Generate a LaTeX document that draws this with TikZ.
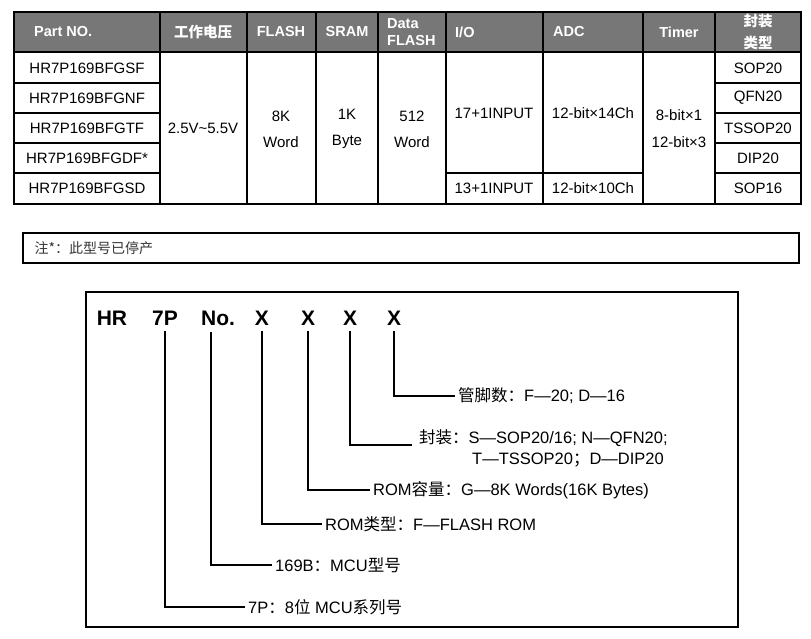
\documentclass[tikz,border=0pt]{standalone}
\usepackage{fontspec}
\setmainfont{Liberation Sans}
\newfontfamily\cjk{Noto Sans CJK SC}
\usetikzlibrary{positioning}
\definecolor{headgray}{HTML}{777777}
\definecolor{notegray}{HTML}{333333}
\begin{document}
\begin{tikzpicture}[x=1pt, y=-1pt,
    head/.style={text=white, font=\fontsize{14.5}{17}\bfseries\selectfont, inner sep=0pt},
    cell/.style={font=\fontsize{15}{26}\selectfont, inner sep=0pt, align=center},
    letter/.style={font=\fontsize{21}{24}\bfseries\selectfont, inner xsep=1pt, inner ysep=6pt},
    label/.style={font=\fontsize{16.5}{20}\selectfont, anchor=west, inner sep=3pt},
    lead/.style={line width=1.4pt}]
    \useasboundingbox (0,0) rectangle (811,638);

    % Table header
    \fill[headgray] (14,12) rectangle (801,52);
    \draw[line width=1.2pt] (14,52) -- (801,52);

    % Column and row lines
    \foreach \x in {160,247,316,378,446,543,643,715}
        \draw[line width=1.8pt] (\x,12) -- (\x,204);
    \foreach \y in {83,113,143,173}{
        \draw[line width=1.3pt] (14,\y) -- (160,\y);
        \draw[line width=1.3pt] (715,\y) -- (801,\y);
    }
    \draw[line width=1.3pt] (446,173) -- (643,173);
    \draw[line width=2.6pt] (14,12) rectangle (801,204);

    % Header texts
    \node[head, anchor=west] (hpart) at (34,32) {Part NO.};
    \node[head] (hvolt) at (203,32) {\cjk 工作电压};
    \node[head] (hflash) at (281,32) {FLASH};
    \node[head] (hsram) at (347,32) {SRAM};
    \node[head, anchor=west, align=left] (hdata) at (387,32) {Data\\FLASH};
    \node[head, anchor=west] (hio) at (455,32) {I/O};
    \node[head, anchor=west] (hadc) at (553,32) {ADC};
    \node[head] (htimer) at (679,32) {Timer};
    \node[head, align=center, font=\fontsize{14.5}{22}\bfseries\selectfont] (hpack) at (758,32) {{\cjk 封装}\\{\cjk 类型}};

    % Part numbers and packages
    \foreach \y/\pn/\pk in {68/HR7P169BFGSF/SOP20, 98/HR7P169BFGNF/QFN20,
        128/HR7P169BFGTF/TSSOP20, 158/HR7P169BFGDF*/DIP20, 188/HR7P169BFGSD/SOP16}{
        \node[cell] (pn\y) at (87,\y) {\pn};
        \node[cell] (pk\y) at (758,\y) {\pk};
    }

    % Shared cells
    \node[cell] (volt) at (203,128) {2.5V\textasciitilde 5.5V};
    \node[cell] (flash) at (281,129) {8K\\Word};
    \node[cell] (sram) at (347,129) {1K\\Byte};
    \node[cell] (dflash) at (412,129) {512\\Word};
    \node[cell] (ioa) at (494,113) {17+1INPUT};
    \node[cell] (iob) at (494,188) {13+1INPUT};
    \node[cell] (adca) at (593,113) {12-bit×14Ch};
    \node[cell] (adcb) at (593,188) {12-bit×10Ch};
    \node[cell, font=\fontsize{15}{27}\selectfont] (timer) at (679,129) {8-bit×1\\12-bit×3};

    % Note
    \draw[line width=2.4pt] (23,233) rectangle (799,263);
    \node[anchor=west, text=notegray, font=\fontsize{14}{16}\selectfont\cjk] (note) at (31,248) {注*：此型号已停产};

    % Part number scheme
    \draw[line width=1.2pt] (86,292) rectangle (738,627);
    \node[letter] (hr) at (112,318) {HR};
    \node[letter] (sevp) at (165,318) {7P};
    \node[letter] (no) at (218,318) {No.};
    \node[letter] (xa) at (262,318) {X};
    \node[letter] (xb) at (308,318) {X};
    \node[letter] (xc) at (350,318) {X};
    \node[letter] (xd) at (394,318) {X};

    \node[label] (lsevp) at (245,607) {7P{\cjk ：}8{\cjk 位} MCU{\cjk 系列号}};
    \node[label] (lno) at (272,565) {169B{\cjk ：}MCU{\cjk 型号}};
    \node[label] (la) at (322,524) {ROM{\cjk 类型：}F—FLASH ROM};
    \node[label] (lb) at (370,490) {ROM{\cjk 容量：}G—8K Words(16K Bytes)};
    \node[label] (lc) at (416,438) {{\cjk 封装：}S—SOP20/16; N—QFN20;};
    \node[label] (lc2) at (469,460) {T—TSSOP20{\cjk ；}D—DIP20};
    \node[label] (ld) at (455,396) {{\cjk 管脚数：}F—20; D—16};
    \coordinate (cpack) at ([xshift=-4pt, yshift=-7pt]lc.west);

    % Leads
    \draw[lead] (sevp.south) |- (lsevp.west);
    \draw[lead] ([xshift=-7pt]no.south) |- (lno.west);
    \draw[lead] (xa.south) |- (la.west);
    \draw[lead] (xb.south) |- (lb.west);
    \draw[lead] (xc.south) |- (cpack);
    \draw[lead] (xd.south) |- (ld.west);
\end{tikzpicture}
\end{document}
